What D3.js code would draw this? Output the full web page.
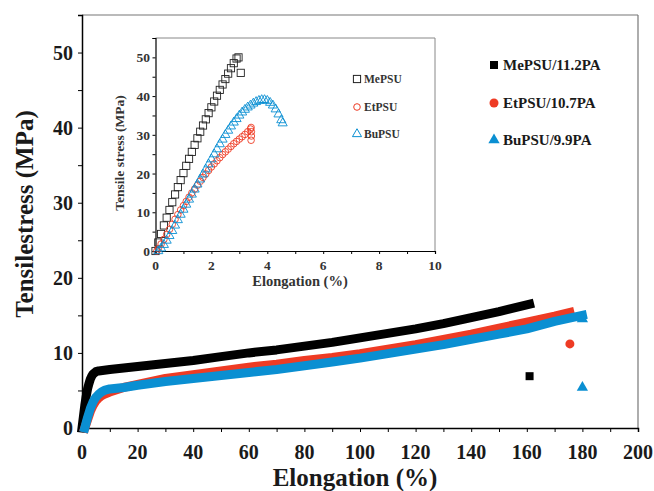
<!DOCTYPE html>
<html><head><meta charset="utf-8">
<script src="https://cdn.jsdelivr.net/npm/d3@7"></script>
<style>body{margin:0;background:#fff}svg{display:block}text{font-family:"Liberation Serif","Times New Roman",serif;font-weight:bold}</style>
</head><body><svg id="c" width="654" height="491"></svg>
<script>
// ---------- data (main chart) ----------
const seriesNames = ["MePSU/11.2PA", "EtPSU/10.7PA", "BuPSU/9.9PA"];
const meMain = [[0,0],[0.5,1.5],[1,3],[1.5,4.2],[2,5.2],[2.5,5.9],[3,6.5],[3.5,6.9],[4,7.2],[5,7.5],[6,7.6],[8,7.7],[10,7.8],[15,8.0],[20,8.2],[30,8.6],[40,9.0],[50,9.5],[60,10.0],[70,10.4],[80,10.9],[90,11.4],[100,12.0],[110,12.6],[120,13.2],[130,13.9],[140,14.7],[150,15.5],[161,16.5]];
const meBreak = [[161,6.9]];
const etMain = [[1,0],[2,1.1],[3,2.2],[4,3.0],[5,3.6],[6,4.0],[7,4.3],[8,4.5],[10,4.8],[15,5.4],[20,5.8],[30,6.6],[40,7.1],[50,7.6],[60,8.1],[70,8.5],[80,9.0],[90,9.4],[100,9.9],[110,10.5],[120,11.1],[130,11.8],[140,12.5],[150,13.3],[160,14.1],[170,14.9],[175.5,15.4]];
const etBreak = [[175.5,11.2]];
const buMain = [[1,0],[2,1.4],[3,2.6],[4,3.5],[5,4.1],[6,4.5],[7,4.8],[8,5.0],[10,5.2],[15,5.4],[20,5.7],[30,6.2],[40,6.6],[50,7.0],[60,7.4],[70,7.8],[80,8.3],[90,8.8],[100,9.3],[110,9.9],[120,10.5],[130,11.1],[140,11.8],[150,12.5],[160,13.2],[170,14.2],[180,15.0]];
const buBreak = [[180,14.5],[180,5.4]];
const xTicksMain = [0,20,40,60,80,100,120,140,160,180,200];
const yTicksMain = [0,10,20,30,40,50];

// ---------- data (inset) ----------
const insetNames = ["MePSU", "EtPSU", "BuPSU"];
const meInset = [[0,0],[0.1,2.2],[0.2,4.4],[0.3,6.6],[0.4,8.6],[0.5,10.6],[0.6,12.6],[0.7,14.6],[0.8,16.5],[0.9,18.3],[1.0,20.1],[1.1,22],[1.2,23.8],[1.3,25.6],[1.4,27.4],[1.5,29.1],[1.6,30.8],[1.7,32.4],[1.8,34],[1.9,35.6],[2.0,37.1],[2.1,38.6],[2.2,40.1],[2.3,41.6],[2.4,43],[2.5,44.4],[2.6,45.8],[2.7,47.2],[2.8,48.5],[2.9,49.7],[2.97,50],[3.05,46]];
const etInset = [[0.05,0],[0.1,0.6],[0.2,1.8],[0.3,3],[0.4,4.3],[0.5,5.6],[0.6,6.9],[0.7,8.2],[0.8,9.4],[0.9,10.6],[1.0,11.7],[1.1,12.8],[1.2,13.9],[1.3,15],[1.4,16],[1.5,17],[1.6,18],[1.7,19],[1.8,19.9],[1.9,20.8],[2.0,21.7],[2.1,22.5],[2.2,23.3],[2.3,24.1],[2.4,24.9],[2.5,25.6],[2.6,26.3],[2.7,27],[2.8,27.7],[2.9,28.3],[3.0,28.9],[3.1,29.5],[3.2,30.1],[3.3,30.8],[3.4,31.5],[3.42,31.9],[3.43,30.8],[3.43,29.7],[3.42,28.6]];
const buInset = [[0.1,0],[0.2,0.7],[0.3,1.6],[0.4,2.7],[0.5,3.9],[0.6,5.2],[0.7,6.6],[0.8,8],[0.9,9.4],[1.0,10.7],[1.1,12],[1.2,13.3],[1.3,14.6],[1.4,15.9],[1.5,17.2],[1.6,18.5],[1.7,19.8],[1.8,21.1],[1.9,22.4],[2.0,23.7],[2.1,25],[2.2,26.3],[2.3,27.6],[2.4,28.8],[2.5,30],[2.6,31.1],[2.7,32.2],[2.8,33.2],[2.9,34.1],[3.0,35],[3.1,35.8],[3.2,36.5],[3.3,37.1],[3.4,37.6],[3.5,38.1],[3.6,38.5],[3.7,38.8],[3.8,39],[3.9,39],[4.0,38.8],[4.1,38.3],[4.2,37.6],[4.3,36.6],[4.4,35.3],[4.5,33.8],[4.55,33]];
const xTicksInset = [0,2,4,6,8,10];
const yTicksInset = [0,10,20,30,40,50];

const colors = ["#000000", "#ee3b24", "#0a8fd2"];
const txt = "#1a1a1a";

const svg = d3.select("#c");
svg.append("rect").attr("width",654).attr("height",491).attr("fill","#fff");

// ---------- main chart ----------
const x = d3.scaleLinear().domain([0,200]).range([82,638]);
const y = d3.scaleLinear().domain([0,55]).range([428,15]);

// frame
svg.append("line").attr("x1",x(0)).attr("x2",x(200)).attr("y1",y(55)).attr("y2",y(55)).attr("stroke","#777").attr("stroke-width",1.2);
svg.append("line").attr("x1",x(200)).attr("x2",x(200)).attr("y1",y(55)).attr("y2",y(0)).attr("stroke","#777").attr("stroke-width",1.2);

const xAxis = svg.append("g").attr("transform",`translate(0,${y(0)})`)
  .call(d3.axisBottom(x).tickValues(d3.range(0,201,10)).tickSize(4).tickFormat(""));
xAxis.select(".domain").attr("stroke-width",1.5);
svg.append("g").selectAll("text").data(xTicksMain).join("text")
  .attr("x",d=>x(d)).attr("y",459).attr("text-anchor","middle").attr("font-size",20).attr("fill",txt).text(d=>d);

const yAxis = svg.append("g").attr("transform",`translate(${x(0)},0)`)
  .call(d3.axisLeft(y).tickValues(d3.range(0,56,5)).tickSize(4).tickFormat(""));
yAxis.select(".domain").attr("stroke-width",1.5);
svg.append("g").selectAll("text").data(yTicksMain).join("text")
  .attr("x",73).attr("y",d=>y(d)+7).attr("text-anchor","end").attr("font-size",20).attr("fill",txt).text(d=>d);

svg.append("text").attr("transform","translate(33,214) rotate(-90)").attr("text-anchor","middle")
  .attr("font-size",25).attr("fill",txt).text("Tensilestress (MPa)");
svg.append("text").attr("x",355).attr("y",486).attr("text-anchor","middle")
  .attr("font-size",25).attr("fill",txt).text("Elongation (%)");

const line = d3.line().x(d=>x(d[0])).y(d=>y(d[1]));
[meMain, etMain, buMain].forEach((s,i)=>{
  svg.append("path").datum(s).attr("d",line).attr("fill","none")
    .attr("stroke",colors[i]).attr("stroke-width",9).attr("stroke-linejoin","round").attr("stroke-linecap","square");
});
// break points
svg.selectAll(".mb").data(meBreak).join("rect").attr("x",d=>x(d[0])-4).attr("y",d=>y(d[1])-4).attr("width",8).attr("height",8).attr("fill",colors[0]);
svg.selectAll(".eb").data(etBreak).join("circle").attr("cx",d=>x(d[0])).attr("cy",d=>y(d[1])).attr("r",4.5).attr("fill",colors[1]);
const triMain = d3.symbol().type(d3.symbolTriangle).size(55);
svg.selectAll(".bb").data(buBreak).join("path").attr("d",triMain).attr("transform",d=>`translate(${x(d[0])},${y(d[1])})`).attr("fill",colors[2]);

// legend
const legY = [65,103,140];
seriesNames.forEach((n,i)=>{
  const cx = 494, cy = legY[i];
  if(i===0) svg.append("rect").attr("x",cx-4).attr("y",cy-4).attr("width",8).attr("height",8).attr("fill",colors[0]);
  if(i===1) svg.append("circle").attr("cx",cx).attr("cy",cy).attr("r",4.5).attr("fill",colors[1]);
  if(i===2) svg.append("path").attr("d",triMain).attr("transform",`translate(${cx},${cy})`).attr("fill",colors[2]);
  svg.append("text").attr("x",503).attr("y",cy+5).attr("font-size",15).attr("fill",txt).text(n);
});

// ---------- inset ----------
const xi = d3.scaleLinear().domain([0,10]).range([155.5,435]);
const yi = d3.scaleLinear().domain([0,55]).range([251,38]);
svg.append("line").attr("x1",xi(0)).attr("x2",xi(10)).attr("y1",yi(55)).attr("y2",yi(55)).attr("stroke","#888").attr("stroke-width",1);
svg.append("line").attr("x1",xi(10)).attr("x2",xi(10)).attr("y1",yi(55)).attr("y2",yi(0)).attr("stroke","#888").attr("stroke-width",1);
const xiAxis = svg.append("g").attr("transform",`translate(0,${yi(0)})`)
  .call(d3.axisBottom(xi).tickValues(d3.range(0,11,1)).tickSize(3).tickFormat(""));
const yiAxis = svg.append("g").attr("transform",`translate(${xi(0)},0)`)
  .call(d3.axisLeft(yi).tickValues(d3.range(0,56,5)).tickSize(3).tickFormat(""));
[xiAxis, yiAxis].forEach(a=>a.select(".domain").attr("stroke-width",1.2));
svg.append("g").selectAll("text").data(xTicksInset).join("text")
  .attr("x",d=>xi(d)).attr("y",270).attr("text-anchor","middle").attr("font-size",13.5).attr("fill","#333").text(d=>d);
svg.append("g").selectAll("text").data(yTicksInset).join("text")
  .attr("x",150).attr("y",d=>yi(d)+5).attr("text-anchor","end").attr("font-size",13.5).attr("fill","#333").text(d=>d);
svg.append("text").attr("transform","translate(124,153) rotate(-90)").attr("text-anchor","middle")
  .attr("font-size",13.5).attr("fill","#333").text("Tensile stress (MPa)");
svg.append("text").attr("x",300).attr("y",286).attr("text-anchor","middle")
  .attr("font-size",14.5).attr("fill","#333").text("Elongation (%)");

const insetColors = ["#222","#ee3b24","#0a8fd2"];
svg.append("g").selectAll("rect").data(meInset).join("rect")
  .attr("x",d=>xi(d[0])-3.6).attr("y",d=>yi(d[1])-3.6).attr("width",7.2).attr("height",7.2)
  .attr("fill","none").attr("stroke",insetColors[0]).attr("stroke-width",0.9);
svg.append("g").selectAll("circle").data(etInset).join("circle")
  .attr("cx",d=>xi(d[0])).attr("cy",d=>yi(d[1])).attr("r",3.3)
  .attr("fill","none").attr("stroke",insetColors[1]).attr("stroke-width",0.9);
const triIn = d3.symbol().type(d3.symbolTriangle).size(36);
svg.append("g").selectAll("path").data(buInset).join("path").attr("d",triIn)
  .attr("transform",d=>`translate(${xi(d[0])},${yi(d[1])})`)
  .attr("fill","none").attr("stroke",insetColors[2]).attr("stroke-width",0.9);

const ilegY = [79,107,134];
insetNames.forEach((n,i)=>{
  const cx = 357, cy = ilegY[i];
  if(i===0) svg.append("rect").attr("x",cx-3.6).attr("y",cy-3.6).attr("width",7.2).attr("height",7.2).attr("fill","none").attr("stroke",insetColors[0]);
  if(i===1) svg.append("circle").attr("cx",cx).attr("cy",cy).attr("r",3.3).attr("fill","none").attr("stroke",insetColors[1]);
  if(i===2) svg.append("path").attr("d",triIn).attr("transform",`translate(${cx},${cy})`).attr("fill","none").attr("stroke",insetColors[2]);
  svg.append("text").attr("x",364).attr("y",cy+4).attr("font-size",11.5).attr("fill","#333").text(n);
});
</script></body></html>
